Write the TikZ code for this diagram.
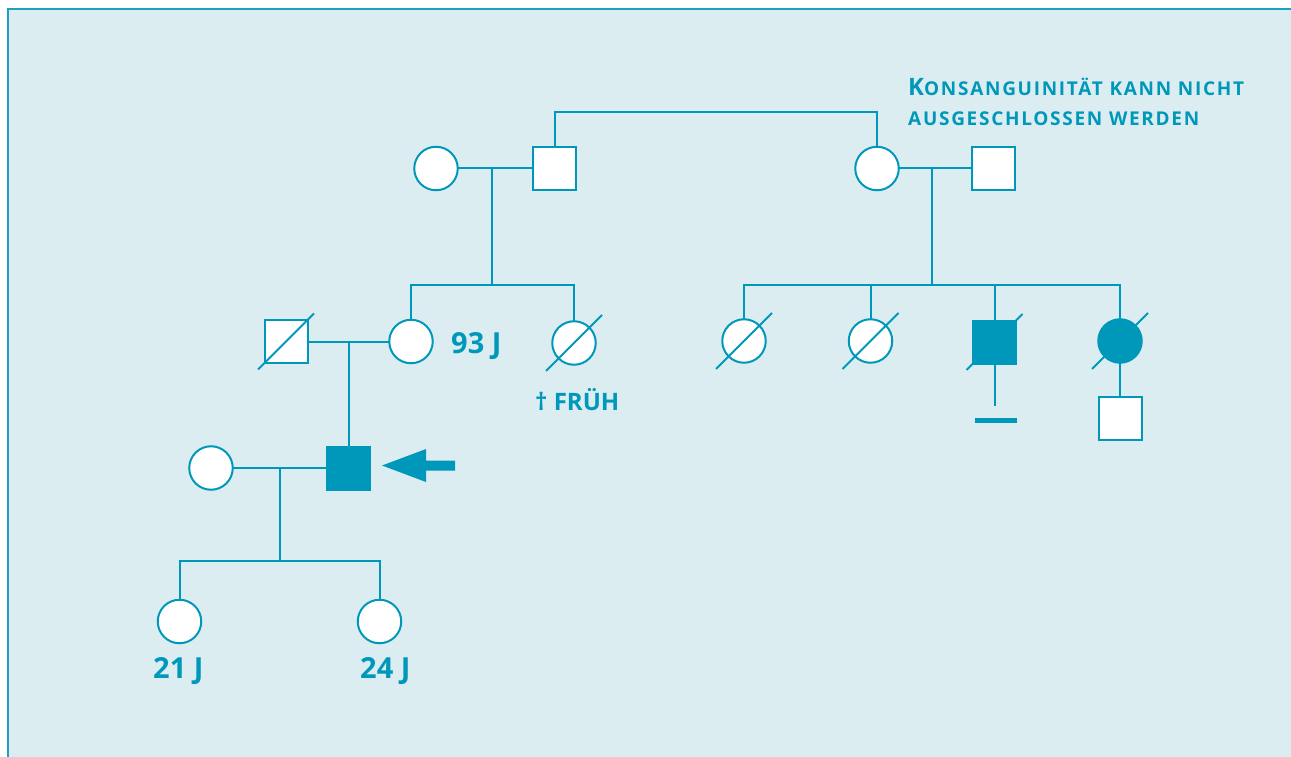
\documentclass[tikz,border=0pt]{standalone}
\usepackage{fontspec}
\setmainfont{Open Sans}
\definecolor{pedi}{RGB}{0,152,186}
\definecolor{panel}{RGB}{220,237,242}
\definecolor{rim}{RGB}{30,160,195}
\newcommand\capsbig{\fontsize{24}{24}\selectfont}
\newcommand\capssmall{\fontsize{19}{19}\selectfont\addfontfeature{LetterSpace=9}}
\begin{document}
\begin{tikzpicture}[x=1pt, y=-1pt,
  person/.style={draw=pedi, line width=2pt, fill=white, inner sep=0pt, outer sep=0pt},
  female/.style={person, circle, minimum size=43.5pt},
  male/.style={person, rectangle, minimum size=43pt},
  affected/.style={fill=pedi},
  tie/.style={draw=pedi, line width=2pt},
  slash/.style={draw=pedi, line width=2pt},
  agelabel/.style={text=pedi, font=\bfseries\fontsize{29}{29}\selectfont, anchor=base west, inner sep=0pt},
  note/.style={text=pedi, font=\bfseries, anchor=base west, inner sep=0pt}]
  \useasboundingbox (0,0) rectangle (1291,757);
  % panel
  \fill[white] (0,0) rectangle (1291,757);
  \fill[panel] (8,10) rectangle (1291,757);
  \draw[rim, line width=2pt] (7.5,757) -- (7.5,9.5) -- (1291,9.5);

  % generation I
  \node[female] (f1) at (436,168.5) {};
  \node[male]   (m1) at (554.5,168.5) {};
  \node[female] (f2) at (877,168.5) {};
  \node[male]   (m2) at (993,168.5) {};

  % generation II
  \node[male]   (m3) at (286,341.5) {};
  \node[female] (f3) at (411,341.5) {};
  \node[female] (f4) at (574,343) {};
  \node[female] (f5) at (744,341) {};
  \node[female] (f6) at (870.5,341) {};
  \node[male, affected]   (m4) at (994.5,342) {};
  \node[female, affected] (f7) at (1120,341) {};
  \node[male]   (m5) at (1120,418.5) {};

  % generation III
  \node[female] (f8) at (211,468) {};
  \node[male, affected] (m6) at (348.5,468) {};

  % generation IV
  \node[female] (f9)  at (179.5,621.5) {};
  \node[female] (f10) at (379.5,621.5) {};

  % line positions
  \coordinate (top)  at (0,112);
  \coordinate (sibL) at (0,285);
  \coordinate (sibR) at (0,285);
  \coordinate (sibK) at (0,561);
  \coordinate (d1) at (492,168.5);
  \coordinate (d2) at (932,168.5);
  \coordinate (d3) at (348.5,341.5);
  \coordinate (d4) at (280,468);
  \coordinate (m4end) at (994.5,406);

  % sibling line of m1 and f2
  \draw[tie] (m1.north) |- (f2.north |- top) -- (f2.north);

  % couples
  \draw[tie] (f1.east) -- (m1.west);
  \draw[tie] (f2.east) -- (m2.west);
  \draw[tie] (m3.east) -- (f3.west);
  \draw[tie] (f8.east) -- (m6.west);

  % descent and sibships
  \draw[tie] (d1) -- (d1 |- sibL);
  \draw[tie] (f3.north) -- (f3.north |- sibL) -- (f4.north |- sibL) -- (f4.north);

  \draw[tie] (d2) -- (d2 |- sibR);
  \draw[tie] (f5.north) -- (f5.north |- sibR) -- (f7.north |- sibR) -- (f7.north);
  \draw[tie] (f6.north) -- (f6.north |- sibR);
  \draw[tie] (m4.north) -- (m4.north |- sibR);

  \draw[tie] (d3) -- (m6.north);

  \draw[tie] (d4) -- (d4 |- sibK);
  \draw[tie] (f9.north) -- (f9.north |- sibK) -- (f10.north |- sibK) -- (f10.north);

  % offspring of affected siblings
  \draw[tie] (m4.south) -- (m4end);
  \node[fill=pedi, inner sep=0pt, minimum width=42pt, minimum height=5pt] (nokids) at (996,420.5) {};
  \draw[tie] (f7.south) -- (m5.north);

  % deceased marks
  \foreach \p in {m3,f4,f5,f6,m4,f7}
    \draw[slash] ([shift={(-28,28)}]\p.center) -- ([shift={(28,-28)}]\p.center);

  % index case arrow
  \fill[pedi] (382,465.5) -- (426,449) -- (426,460.5) -- (455,460.5)
    -- (455,470.5) -- (426,470.5) -- (426,482) -- cycle;

  % labels
  \node[agelabel] (a93) at (451,353) {93 J};
  \node[agelabel] (a21) at (153,678) {21 J};
  \node[agelabel] (a24) at (360,678) {24 J};
  \node[note, font=\bfseries\fontsize{24}{24}\selectfont] (early) at (535,410) {† FRÜH};
  \node[note] (cons1) at (908,96) {\capsbig K\capssmall\MakeUppercase{onsanguinität kann nicht}};
  \node[note] (cons2) at (908,126) {\capssmall\MakeUppercase{ausgeschlossen werden}};
\end{tikzpicture}
\end{document}
